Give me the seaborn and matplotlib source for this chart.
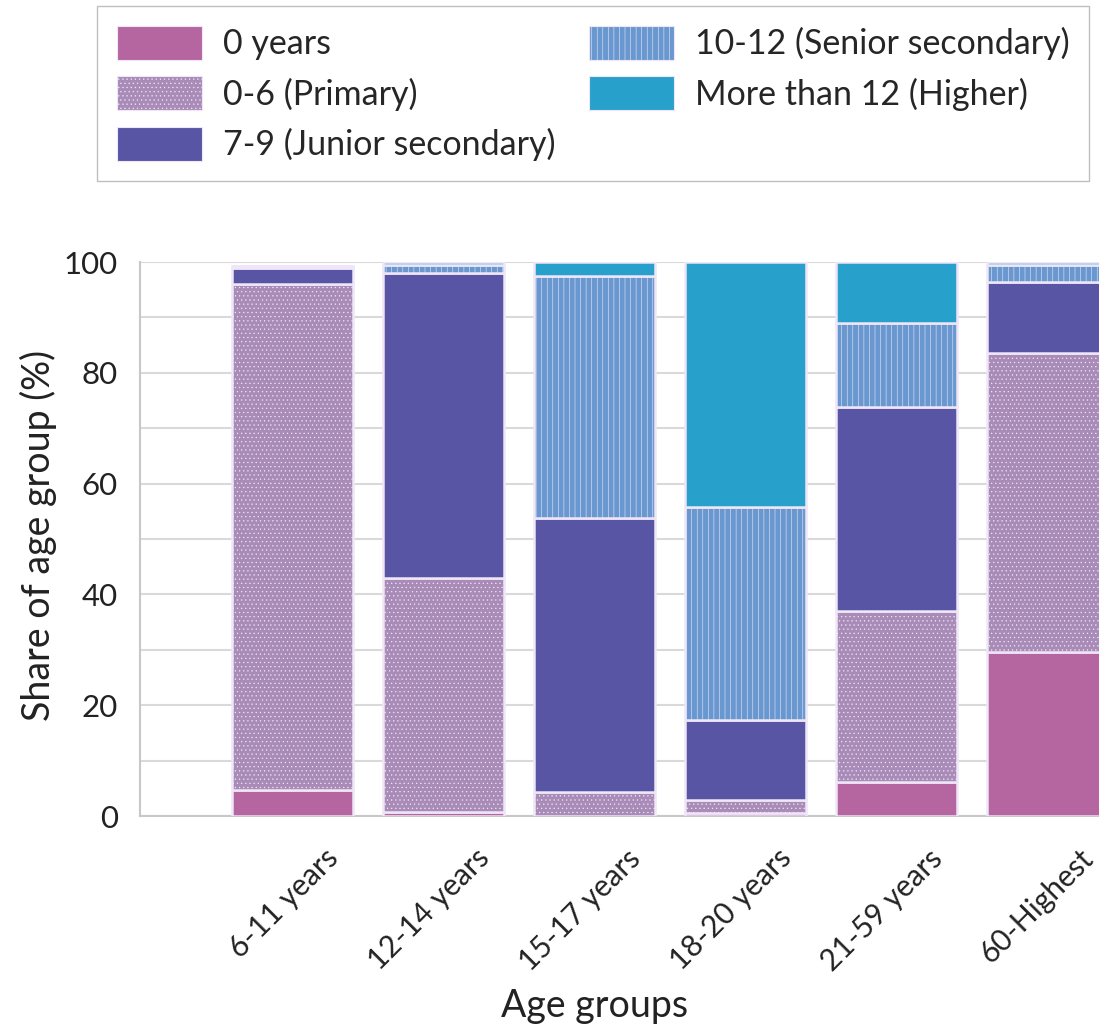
"""
Stacked bars: years of schooling by age group
"""

import matplotlib
matplotlib.use("Agg")
import matplotlib.pyplot as plt
import matplotlib.transforms as mtransforms
from matplotlib.patches import Patch
import numpy as np
import seaborn as sns

# Data (share of age group, %)
age_groups = ["6-11 years", "12-14 years", "15-17 years", "18-20 years", "21-59 years", "60-Highest"]
levels = ["0 years", "0-6 (Primary)", "7-9 (Junior secondary)",
          "10-12 (Senior secondary)", "More than 12 (Higher)"]
zero_years = [4.7, 0.8, 0.0, 0.5, 6.1, 29.6]
primary = [91.3, 42.2, 4.4, 2.4, 30.9, 54.0]
junior = [3.0, 55.0, 49.4, 14.4, 36.9, 12.7]
senior = [0.2, 1.5, 43.7, 38.5, 15.1, 3.2]
higher = [0.0, 0.5, 2.5, 44.2, 11.0, 0.5]

series = [zero_years, primary, junior, senior, higher]
colors = ["#b5659f", "#a98bb8", "#5855a5", "#6898cf", "#27a0cc"]
hatches = [None, "....", None, "|||", None]

sns.set_style("white")
plt.rcParams["font.family"] = ["Lato", "DejaVu Sans"]
plt.rcParams["hatch.linewidth"] = 0.4

fig = plt.figure(figsize=(10.99, 10.25), dpi=100)
ax = fig.add_axes([140 / 1099, 209 / 1025, 959 / 1099, 554 / 1025])

edge = "#efe6f7"
bottom = np.zeros(len(age_groups))
for vals, col, hat in zip(series, colors, hatches):
    sns.barplot(x=age_groups, y=vals, bottom=bottom, color=col, hatch=hat,
                edgecolor=edge, linewidth=1.8, width=0.8, saturation=1,
                ax=ax, zorder=3)
    bottom = bottom + np.array(vals)

ax.set_xlim(-1.01, 5.34)
ax.set_ylim(0, 100)
ax.set_yticks(range(0, 101, 20))
ax.set_yticks(range(0, 101, 10), minor=True)
ax.grid(axis="y", which="both", color="#d9d9d9", linewidth=1.5, zorder=0)
ax.set_axisbelow(True)

for s in ["top", "right"]:
    ax.spines[s].set_visible(False)
for s in ["left", "bottom"]:
    ax.spines[s].set_color("#c8c8c8")
    ax.spines[s].set_linewidth(1.5)

ax.tick_params(axis="y", which="both", length=0, pad=16, labelsize=22.5, labelcolor="#222222")
ax.tick_params(axis="x", length=0, labelsize=21.5, labelcolor="#222222")

# rotated labels sit a bit right of their bar centre, as in the source figure
offset = mtransforms.ScaledTranslation(41 / 100, -33 / 100, fig.dpi_scale_trans)
for lab in ax.get_xticklabels():
    lab.set_rotation(45)
    lab.set_ha("right")
    lab.set_va("center")
    lab.set_rotation_mode("anchor")
    lab.set_transform(lab.get_transform() + offset)

ax.set_xlabel("Age groups", fontsize=27, color="#222222")
ax.set_ylabel("Share of age group (%)", fontsize=27, color="#222222")
ax.xaxis.set_label_coords(0.474, -0.31)
ax.yaxis.set_label_coords(-0.087, 0.507)

handles = [Patch(facecolor=c, edgecolor=edge, hatch=h, linewidth=0.8)
           for c, h in zip(colors, hatches)]
fig.legend(handles, levels, ncol=2, loc="upper left",
           bbox_to_anchor=(97 / 1099, 1 - 6 / 1025),
           frameon=True, fancybox=False, edgecolor="#bfbfbf", framealpha=1,
           fontsize=24.5, handlelength=2.5, handleheight=1.15, labelspacing=0.47,
           columnspacing=1.0, borderpad=0.59, handletextpad=0.6,
           borderaxespad=0)

fig.savefig("out.png", dpi=100)
